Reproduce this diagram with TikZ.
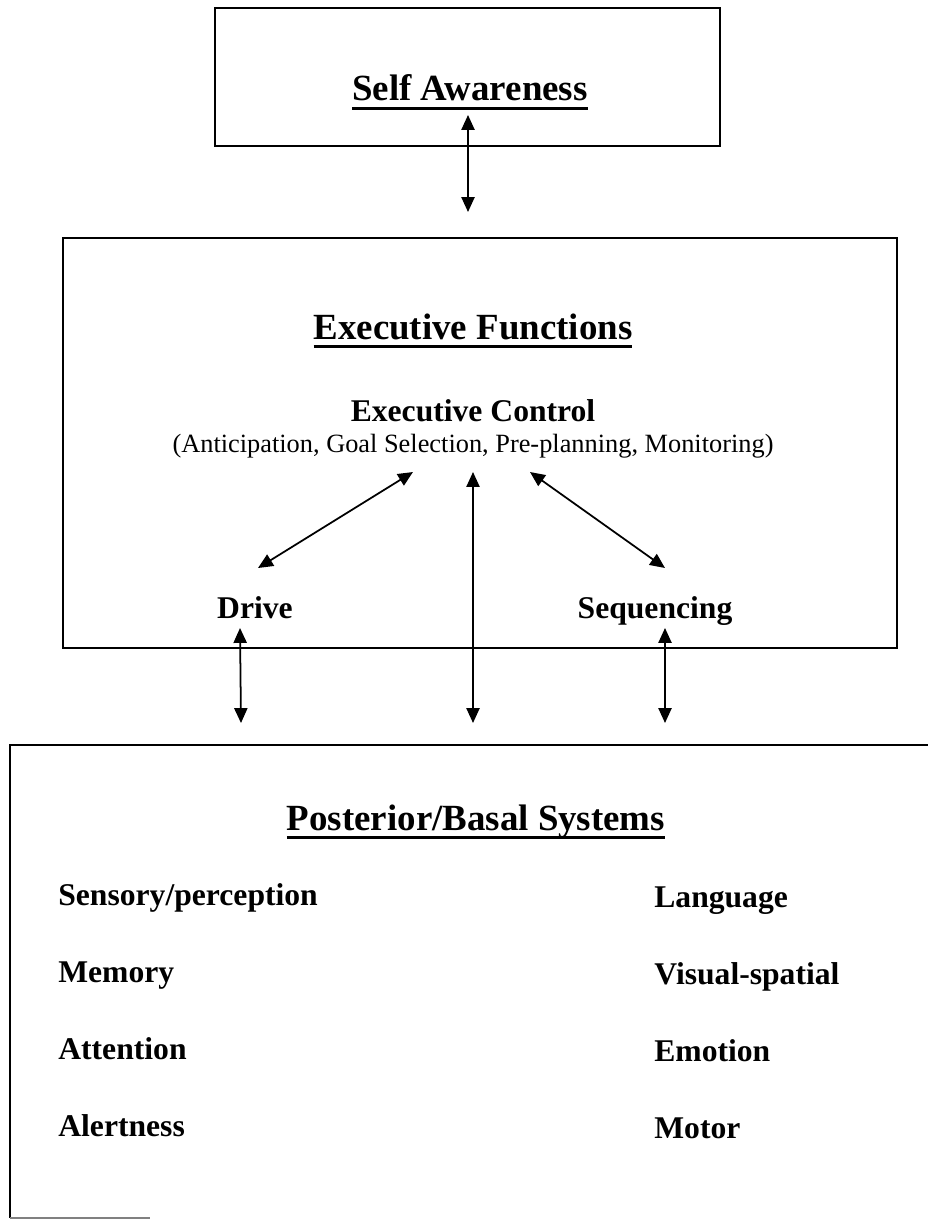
\documentclass[tikz,border=0pt]{standalone}
\usepackage{fontspec}
\setmainfont{Liberation Serif}
\usetikzlibrary{arrows.meta}
\newcommand\headline[1]{\setbox0\hbox{#1}\rlap{\rule[-5pt]{\wd0}{1.5pt}}\box0}
\tikzset{
  box/.style={draw, line width=1.1pt},
  dbl/.style={{Triangle[length=8.5pt,width=7.5pt]}-{Triangle[length=8.5pt,width=7.5pt]}, line width=1pt},
  head/.style={font=\bfseries\fontsize{21}{25}\selectfont, inner sep=0pt, anchor=base},
  item/.style={font=\bfseries\fontsize{18}{22}\selectfont, inner sep=0pt, anchor=base west},
  sub/.style={font=\bfseries\fontsize{18}{22}\selectfont, inner sep=0pt, anchor=base},
}
\begin{document}
\begin{tikzpicture}[x=0.02cm, y=-0.02cm]
      \useasboundingbox (0,0) rectangle (927,1220);

      % boxes
      \draw[box] (215,8) rectangle (720,146);
      \draw[box] (63,238) rectangle (897,648);
      \draw[box] (940,745) -- (10,745) -- (10,1218);
      \draw[gray, line width=0.6pt] (10,1218) -- (150,1218);

      % titles
      \node[head] (selfaw) at (470,101) {\headline{Self Awareness}};
      \node[head] (execfn) at (473,339) {\headline{Executive Functions}};
      \node[head] (postsys) at (476,830) {\headline{Posterior/Basal Systems}};

      \node[sub] (control) at (473,421) {Executive Control};
      \node[font=\fontsize{15}{18}\selectfont, inner sep=0pt, anchor=base] (tasks) at (473,452)
        {(Anticipation, Goal Selection, Pre-planning, Monitoring)};
      \node[sub] (drive) at (255,618) {Drive};
      \node[sub] (seq) at (655,618) {Sequencing};

      % arrow ends
      \coordinate (sa-top) at (468,115);
      \coordinate (sa-bot) at (468,212);
      \coordinate (dr-top) at (413,472);
      \coordinate (dr-bot) at (258,568);
      \coordinate (sq-top) at (530,472);
      \coordinate (sq-bot) at (665,568);
      \coordinate (mid-top) at (473,472);
      \coordinate (mid-bot) at (473,723);
      \coordinate (drv-top) at (240,628);
      \coordinate (drv-bot) at (241,723);
      \coordinate (sqv-top) at (665,628);
      \coordinate (sqv-bot) at (665,723);

      \draw[dbl] (sa-top) -- (sa-bot);
      \draw[dbl] (dr-top) -- (dr-bot);
      \draw[dbl] (sq-top) -- (sq-bot);
      \draw[dbl] (mid-top) -- (mid-bot);
      \draw[dbl] (drv-top) -- (drv-bot);
      \draw[dbl] (sqv-top) -- (sqv-bot);

      % posterior items
      \node[item] (sens) at (58,905) {Sensory/perception};
      \node[item] (mem) at (58,982) {Memory};
      \node[item] (att) at (58,1059) {Attention};
      \node[item] (alert) at (58,1136) {Alertness};
      \node[item] (lang) at (654,907) {Language};
      \node[item] (vis) at (654,984) {Visual-spatial};
      \node[item] (emo) at (654,1061) {Emotion};
      \node[item] (motor) at (654,1138) {Motor};
\end{tikzpicture}
\end{document}
